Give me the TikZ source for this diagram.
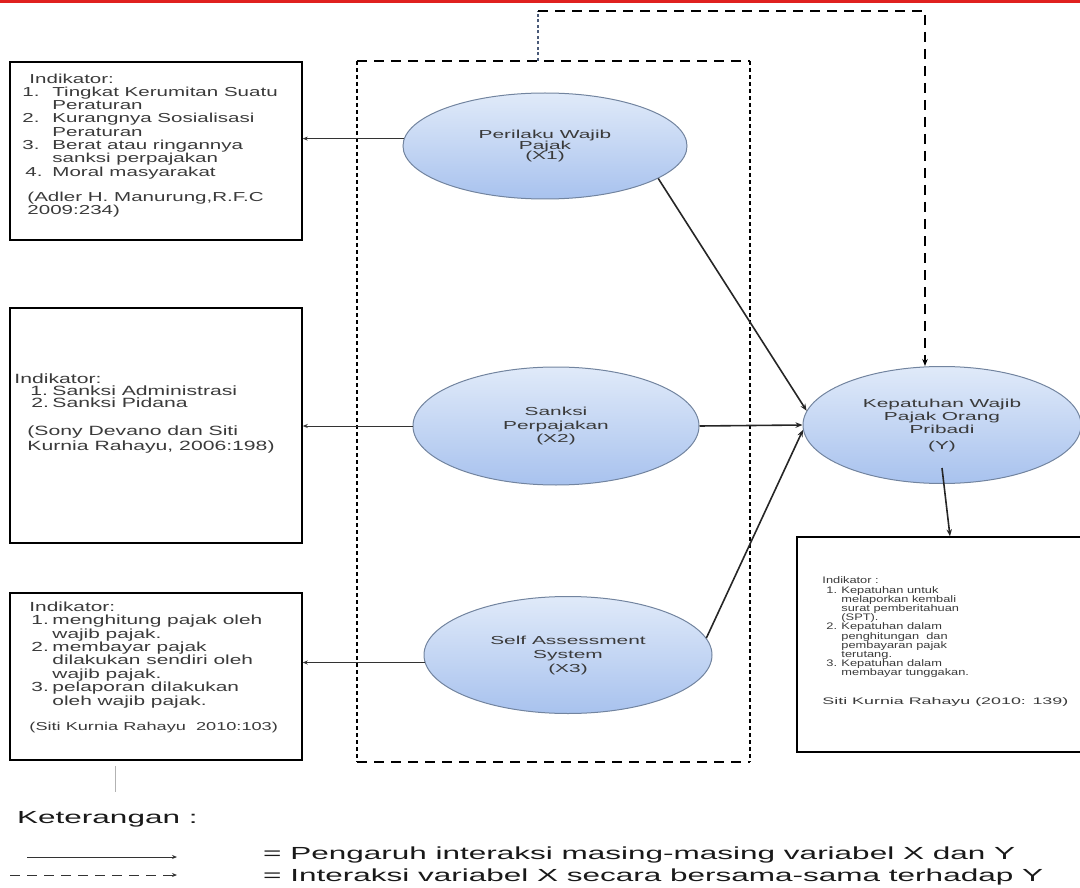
\documentclass[tikz,border=0pt]{standalone}
\usepackage{fontspec}
\setmainfont{Liberation Sans}[FakeStretch=1.8]
\newfontfamily\boxfont{Liberation Sans}[FakeStretch=1.58]
\newfontfamily\smallfont{Liberation Sans}[FakeStretch=1.35]
\newfontfamily\citefont{Liberation Sans}[FakeStretch=1.88]
\usetikzlibrary{positioning,shapes.geometric,arrows.meta}

\definecolor{elltop}{HTML}{E0EAF9}
\definecolor{ellbot}{HTML}{A8C2EE}
\definecolor{elldraw}{HTML}{72849F}
\definecolor{txtgray}{HTML}{3A3A3A}
\definecolor{topred}{HTML}{E0201F}
\definecolor{dotblue}{HTML}{4A5A78}

\newcommand{\fs}[2]{\fontsize{#1}{#2}\selectfont\lineskiplimit=-20pt\lineskip=0pt}
\newcommand{\itm}[2][30pt]{\makebox[#1][l]{#2}}

\tikzstyle{indbox} = [rectangle, draw=black, line width=1.5pt, inner sep=0pt]
\tikzstyle{indtext} = [anchor=north west, inner sep=0pt, align=left, text=txtgray]
\tikzstyle{varnode} = [ellipse, draw=elldraw, line width=1pt, top color=elltop, bottom color=ellbot, text=txtgray, align=center, inner sep=0pt]
\tikzstyle{legtext} = [anchor=base west, inner sep=0pt, text=black!90, font=\fs{17.5}{20}]
\tikzstyle{arrow} = [line width=1.6pt, ->, >={Stealth[length=7pt,width=5.5pt]}, draw=black!85]
\tikzstyle{thinarrow} = [line width=0.9pt, ->, >={Stealth[length=5pt,width=4pt]}, draw=black!80]
\tikzstyle{dasharrow} = [line width=1.6pt, ->, >={Stealth[length=7pt,width=5.5pt]}, dash pattern=on 10pt off 7pt]
\tikzstyle{hdash} = [line width=1.6pt, dash pattern=on 10pt off 7pt]
\tikzstyle{vdash} = [line width=2pt, dash pattern=on 4pt off 3pt]
\tikzstyle{thindot} = [line width=1.2pt, draw=dotblue, dash pattern=on 3pt off 2.5pt]

\begin{document}
\begin{tikzpicture}[x=1pt, y=-1pt]
\useasboundingbox (0,0) rectangle (1080,888);
\draw [topred, line width=3pt] (0,1.5) -- (1080,1.5);

% indikator boxes
\node (ind1) [indbox, minimum width=292pt, minimum height=178pt] at (156,151) {};
\node (ind2) [indbox, minimum width=292pt, minimum height=235pt] at (156,425.5) {};
\node (ind3) [indbox, minimum width=292pt, minimum height=167pt] at (156,676.5) {};
\node (indy) [indbox, minimum width=285pt, minimum height=215pt] at (939.5,644.5) {};

\node (ind1txt) [indtext, font=\boxfont\fs{13}{13.3}] at ([xshift=13pt,yshift=-12.2pt]ind1.north west)
 {\hspace*{7pt}Indikator:\\ \itm{1.}Tingkat Kerumitan Suatu\\ \itm{}Peraturan\\ \itm{2.}Kurangnya Sosialisasi\\ \itm{}Peraturan\\
  \itm{3.}Berat atau ringannya\\ \itm{}sanksi perpajakan\\ \hspace*{3pt}\itm[27pt]{4.}Moral masyarakat\\[11.7pt]
  \hspace*{5pt}(Adler H. Manurung,R.F.C\\ \hspace*{5pt}2009:234)};
\node (ind2txt) [indtext, font=\boxfont\fs{13.4}{12.2}] at ([xshift=5pt,yshift=-66pt]ind2.north west)
 {Indikator:\\ \hspace*{16pt}\itm[22pt]{1.}Sanksi Administrasi\\ \hspace*{17pt}\itm[21pt]{2.}Sanksi Pidana\\[15.8pt]
  \hspace*{13pt}(Sony Devano dan Siti\\[2.8pt] \hspace*{13pt}Kurnia Rahayu, 2006:198)};
\node (ind3txt) [indtext, font=\boxfont\fs{13.2}{13.4}] at ([xshift=20pt,yshift=-9.2pt]ind3.north west)
 {Indikator:\\ \hspace*{2pt}\itm[21pt]{1.}menghitung pajak oleh\\ \hspace*{2pt}\itm[21pt]{}wajib pajak.\\
  \hspace*{2pt}\itm[21pt]{2.}membayar pajak\\ \hspace*{2pt}\itm[21pt]{}dilakukan sendiri oleh\\ \hspace*{2pt}\itm[21pt]{}wajib pajak.\\
  \hspace*{2pt}\itm[21pt]{3.}pelaporan dilakukan\\ \hspace*{2pt}\itm[21pt]{}oleh wajib pajak.\\[11.6pt]
  {\fs{11.5}{12}(Siti Kurnia Rahayu\ \ 2010:103)}};
\node (indytxt) [indtext, font=\smallfont\fs{9.5}{9.2}] at ([xshift=26pt,yshift=-40.5pt]indy.north west)
 {Indikator :\\ \hspace*{4pt}\itm[15pt]{1.}Kepatuhan untuk\\ \hspace*{4pt}\itm[15pt]{}melaporkan kembali\\
  \hspace*{4pt}\itm[15pt]{}surat pemberitahuan\\ \hspace*{4pt}\itm[15pt]{}(SPT).\\
  \hspace*{4pt}\itm[15pt]{2.}Kepatuhan dalam\\ \hspace*{4pt}\itm[15pt]{}penghitungan\ \ dan\\
  \hspace*{4pt}\itm[15pt]{}pembayaran pajak\\ \hspace*{4pt}\itm[15pt]{}terutang.\\
  \hspace*{4pt}\itm[15pt]{3.}Kepatuhan dalam\\ \hspace*{4pt}\itm[15pt]{}membayar tunggakan.\\[19.8pt]
  {\citefont Siti Kurnia Rahayu (2010: 139)}};

% frame round the X variables
\node (frame) [inner sep=0pt, outer sep=0pt, minimum width=393pt, minimum height=701pt] at (553.5,411.5) {};
\draw [hdash] (frame.north west) -- (frame.north east);
\draw [hdash] (frame.south west) -- (frame.south east);
\draw [vdash] (frame.north west) -- (frame.south west);
\draw [vdash] (frame.north east) -- (frame.south east);

% variables
\node (var1) [varnode, minimum width=284pt, minimum height=106pt, font=\fs{11.6}{10.6}] at (545,146) {Perilaku Wajib\\Pajak\\(X1)};
\node (var2) [varnode, minimum width=286pt, minimum height=118pt, font=\fs{11.6}{13.5}] at (556,426) {Sanksi\\Perpajakan\\(X2)};
\node (var3) [varnode, minimum width=288pt, minimum height=117pt, font=\fs{11.6}{14}] at (568,655) {Self Assessment\\System\\(X3)};
\node (vary) [varnode, minimum width=278pt, minimum height=117pt, font=\fs{11.6}{13}] at (942,425) {Kepatuhan Wajib\\Pajak Orang\\Pribadi\\[3pt](Y)};

\draw [thinarrow] (var1.177) -- (var1.177 -| ind1.east);
\draw [thinarrow] (var2.west) -- (var2.west -| ind2.east);
\draw [thinarrow] (var3.183) -- (var3.183 -| ind3.east);
\draw [arrow] (var1.-16) -- (vary.174);
\draw [arrow] (var2.east) -- (vary.west);
\draw [arrow] (var3.7) -- (vary.182);
\draw [arrow] ([yshift=16pt]vary.south) -- ([xshift=10.5pt]indy.north);

\coordinate (jn) at (538,61);
\coordinate (bend) at (538,11);
\draw [thindot] (jn) -- (bend);
\draw [dasharrow] (bend) -| ([xshift=-17pt]vary.north);

\draw [black!30, line width=0.8pt] (115,766) -- (115,792);

% keterangan
\node (ket) [legtext] at (17,823) {Keterangan :};
\coordinate (solA) at (27,857);
\coordinate (solB) at (177,857);
\coordinate (dasA) at (10,875);
\coordinate (dasB) at (177,875);
\draw [thinarrow] (solA) -- (solB);
\draw [thinarrow, dash pattern=on 10pt off 7pt] (dasA) -- (dasB);
\node (leg1) [legtext] at (263,859) {= Pengaruh interaksi masing-masing variabel X dan Y};
\node (leg2) [legtext] at (263,881) {= Interaksi variabel X secara bersama-sama terhadap Y};
\end{tikzpicture}
\end{document}
